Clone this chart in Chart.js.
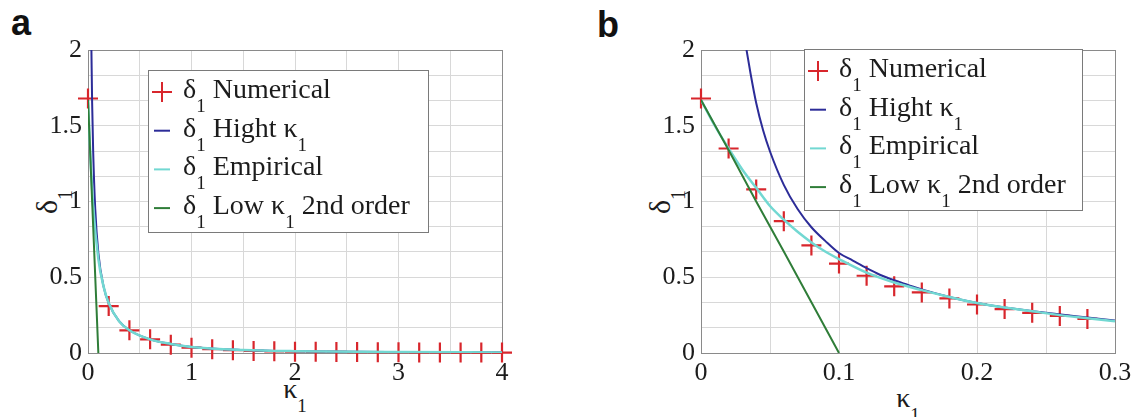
<!DOCTYPE html>
<html><head><meta charset="utf-8">
<script src="https://cdn.jsdelivr.net/npm/chart.js@4.4.0/dist/chart.umd.min.js"></script>
<style>
.sf{font-family:'Liberation Serif','Tinos','Times New Roman','Noto Serif','DejaVu Serif',serif;color:#1c1c1c}
</style>
</head><body style="margin:0;background:#fff">
<div style="position:absolute;left:11px;top:4.5px;font:bold 36px/36px 'Liberation Sans';color:#111">a</div>
<div style="position:absolute;left:597px;top:6.5px;font:bold 36px/36px 'Liberation Sans';color:#111">b</div>
<div class="sf" style="position:absolute;left:195px;top:374.6px;width:200px;text-align:center;font-size:28px;line-height:28px">κ<span style="font-size:19px;position:relative;top:14px">1</span></div>
<div class="sf" style="position:absolute;left:808px;top:383.6px;width:200px;text-align:center;font-size:28px;line-height:28px">κ<span style="font-size:19px;position:relative;top:14px">1</span></div>
<div class="sf" style="position:absolute;left:-53px;top:186.5px;width:200px;height:30px;text-align:center;font-size:30px;line-height:30px;transform:rotate(-90deg)">δ<span style="font-size:20px;position:relative;top:15px">1</span></div>
<div class="sf" style="position:absolute;left:560px;top:186.5px;width:200px;height:30px;text-align:center;font-size:30px;line-height:30px;transform:rotate(-90deg)">δ<span style="font-size:20px;position:relative;top:15px">1</span></div>
<canvas id="ca" width="560" height="417" style="position:absolute;left:0;top:0"></canvas>
<canvas id="cb" width="559" height="417" style="position:absolute;left:580px;top:0"></canvas>
<script>
// ---------- Panel a data ----------
const aNumK = [0,0.2,0.4,0.6,0.8,1.0,1.2,1.4,1.6,1.8,2.0,2.2,2.4,2.6,2.8,3.0,3.2,3.4,3.6,3.8,4.0];
const aNumD = [1.68,0.31,0.15,0.09,0.055,0.035,0.025,0.018,0.014,0.011,0.009,0.008,0.007,0.006,0.005,0.005,0.004,0.004,0.003,0.003,0.003];
const aHighK = [0.033,0.04,0.05,0.07,0.1,0.15,0.2,0.3,0.4,0.6,0.8,1.0,1.5,2,3,4];
const aHighD = [2.0,1.65,1.33,0.95,0.66,0.44,0.33,0.21,0.15,0.09,0.06,0.04,0.02,0.012,0.006,0.004];
const aEmpK = [0,0.02,0.05,0.1,0.15,0.2,0.3,0.4,0.6,0.8,1.0,1.5,2,3,4];
const aEmpD = [1.67,1.35,0.97,0.62,0.44,0.33,0.21,0.15,0.09,0.06,0.04,0.02,0.012,0.006,0.004];
const aLowK = [0,0.02,0.04,0.06,0.08,0.1];
const aLowD = [1.67,1.34,1.0,0.67,0.335,0];
const aXGrid = [0,0.5,1,1.5,2,2.5,3,3.5,4];
const aXTickLabels = [0,1,2,3,4];

// ---------- Panel b data ----------
const bNumK = [0,0.02,0.04,0.06,0.08,0.1,0.12,0.14,0.16,0.18,0.2,0.22,0.24,0.26,0.28];
const bNumD = [1.68,1.35,1.08,0.87,0.71,0.59,0.51,0.44,0.40,0.36,0.32,0.29,0.265,0.245,0.225];
const bHighK = [0.033,0.036,0.04,0.045,0.05,0.06,0.07,0.08,0.09,0.1,0.11,0.12,0.13,0.14,0.15,0.16,0.18,0.2,0.22,0.25,0.28,0.3];
const bHighD = [2.0,1.84,1.65,1.47,1.33,1.11,0.95,0.83,0.74,0.66,0.61,0.56,0.515,0.48,0.45,0.42,0.37,0.33,0.30,0.265,0.235,0.215];
const bEmpK = [0,0.01,0.02,0.03,0.04,0.05,0.06,0.07,0.08,0.09,0.1,0.12,0.14,0.16,0.18,0.2,0.22,0.24,0.26,0.28,0.3];
const bEmpD = [1.67,1.50,1.35,1.21,1.09,0.97,0.88,0.80,0.73,0.67,0.62,0.53,0.465,0.415,0.37,0.33,0.30,0.275,0.25,0.23,0.21];
const bLowK = [0,0.02,0.04,0.06,0.08,0.1];
const bLowD = [1.67,1.34,1.0,0.67,0.335,0];
const bXGrid = [0,0.05,0.1,0.15,0.2,0.25,0.3];
const bXTickLabels = [0,0.1,0.2,0.3];

// ---------- shared y axis ----------
const yGrid = [0,0.1667,0.3333,0.5,0.6667,0.8333,1,1.1667,1.3333,1.5,1.6667,1.8333,2];
const yTickLabels = [0,0.5,1,1.5,2];

// ---------- legend texts ----------
const legendTexts = [
  [{t:'δ'},{t:'1',sub:true},{t:' Numerical'}],
  [{t:'δ'},{t:'1',sub:true},{t:' Hight κ'},{t:'1',sub:true}],
  [{t:'δ'},{t:'1',sub:true},{t:' Empirical'}],
  [{t:'δ'},{t:'1',sub:true},{t:' Low κ'},{t:'1',sub:true},{t:' 2nd order'}]
];

const RED='#d8262c', BLUE='#2c2c98', CYAN='#72d8d2', GREEN='#2f7d38', GRID='#d8d8d8', FRAME='#8a8a8a', TXT='#1c1c1c';
const SERIF="'Liberation Serif', 'Tinos', 'Times New Roman', 'Noto Serif', 'DejaVu Serif', serif";

function pts(k,d){return k.map((v,i)=>({x:v,y:d[i]}));}
function fmt(v){return String(v);}

function drawRich(ctx,x,y,segs,size){
  const sz = s=> Math.round(s.sub? size*0.68 : size);
  let cx = x;
  ctx.textAlign='left'; ctx.textBaseline='alphabetic'; ctx.fillStyle=TXT;
  segs.forEach(s=>{ctx.font=sz(s)+'px '+SERIF; ctx.fillText(s.t,cx,y+(s.sub?size*0.5:0)); cx+=ctx.measureText(s.t).width;});
}

const overlay = {
  id:'overlay',
  beforeDatasetsDraw(chart){
    const a=chart.chartArea, ctx=chart.ctx;
    ctx.save(); ctx.strokeStyle=FRAME; ctx.lineWidth=1;
    ctx.strokeRect(Math.round(a.left)+0.5,Math.round(a.top)+0.5,Math.round(a.right-a.left),Math.round(a.bottom-a.top));
    ctx.restore();
  },
  afterDatasetsDraw(chart){
    const L=chart.options.plugins.overlay.legend, ctx=chart.ctx;
    ctx.save();
    ctx.fillStyle='#fff'; ctx.fillRect(L.x,L.y,L.w,L.h);
    ctx.strokeStyle='#7a7a7a'; ctx.lineWidth=1; ctx.strokeRect(L.x+0.5,L.y+0.5,L.w,L.h);
    const cols=['cross',BLUE,CYAN,GREEN];
    legendTexts.forEach((segs,i)=>{
      const base=L.y+28+i*38.7, my=base-6, mx=L.x+14;
      ctx.lineWidth=2;
      if(cols[i]==='cross'){
        ctx.strokeStyle=RED; ctx.beginPath();
        ctx.moveTo(mx-10,my); ctx.lineTo(mx+10,my); ctx.moveTo(mx,my-10); ctx.lineTo(mx,my+10); ctx.stroke();
      } else {
        ctx.strokeStyle=cols[i]; ctx.beginPath(); ctx.moveTo(mx-8,my); ctx.lineTo(mx+8,my); ctx.stroke();
      }
      drawRich(ctx,L.x+35,base,segs,28);
    });
    ctx.restore();
  }
};

function panel(id,p){
  return new Chart(document.getElementById(id),{
    type:'scatter',
    data:{datasets:[
      {data:pts(p.numK,p.numD),showLine:false,pointStyle:'cross',pointRadius:10,pointBorderColor:RED,pointBackgroundColor:RED,pointBorderWidth:2.2,order:10,clip:false},
      {data:pts(p.highK,p.highD),showLine:true,borderColor:BLUE,borderWidth:2,pointRadius:0,cubicInterpolationMode:'monotone',order:3},
      {data:pts(p.empK,p.empD),showLine:true,borderColor:CYAN,borderWidth:2.5,pointRadius:0,cubicInterpolationMode:'monotone',order:2},
      {data:pts(p.lowK,p.lowD),showLine:true,borderColor:GREEN,borderWidth:2,pointRadius:0,order:1}
    ]},
    options:{
      responsive:false,animation:false,devicePixelRatio:1,
      layout:{padding:{top:50,right:p.padRight,left:0,bottom:0}},
      plugins:{legend:{display:false},tooltip:{enabled:false},overlay:{legend:p.legend}},
      scales:{
        x:{type:'linear',min:p.xGrid[0],max:p.xGrid[p.xGrid.length-1],
          afterBuildTicks:s=>{s.ticks=p.xGrid.map(v=>({value:v}));},
          afterFit:s=>{s.height=64;},
          grid:{color:GRID,drawTicks:false,lineWidth:1},border:{display:false},
          ticks:{autoSkip:false,maxRotation:0,padding:5,color:TXT,font:{family:SERIF,size:26},
            callback:v=>p.xLabels.includes(v)?fmt(v):''}},
        y:{type:'linear',min:0,max:2,
          afterBuildTicks:s=>{s.ticks=yGrid.map(v=>({value:v}));},
          afterFit:s=>{s.width=p.yAxisW;},
          grid:{color:GRID,drawTicks:false,lineWidth:1},border:{display:false},
          ticks:{autoSkip:false,padding:6,color:TXT,font:{family:SERIF,size:26},
            callback:v=>yTickLabels.includes(v)?fmt(v):''}}
      }
    },
    plugins:[overlay]
  });
}

panel('ca',{numK:aNumK,numD:aNumD,highK:aHighK,highD:aHighD,empK:aEmpK,empD:aEmpD,lowK:aLowK,lowD:aLowD,
  xGrid:aXGrid,xLabels:aXTickLabels,yAxisW:88,padRight:58,legend:{x:148,y:70,w:280,h:162}});
panel('cb',{numK:bNumK,numD:bNumD,highK:bHighK,highD:bHighD,empK:bEmpK,empD:bEmpD,lowK:bLowK,lowD:bLowD,
  xGrid:bXGrid,xLabels:bXTickLabels,yAxisW:121,padRight:24,legend:{x:224,y:49,w:278,h:161}});
</script>
</body></html>
